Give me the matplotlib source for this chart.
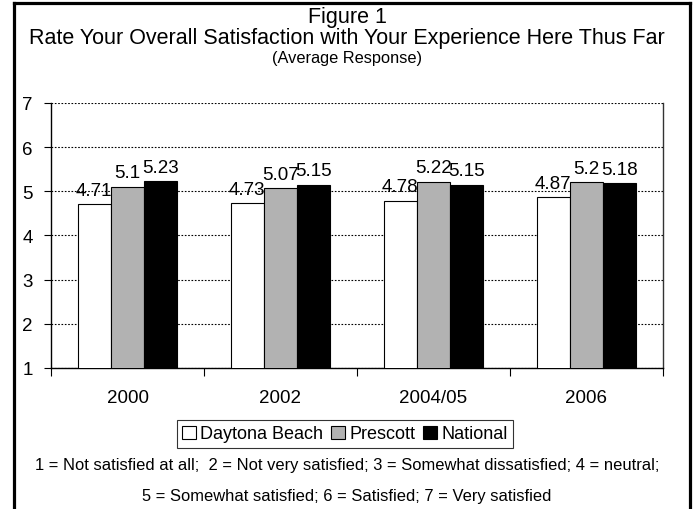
import matplotlib
matplotlib.use("Agg")
import matplotlib.pyplot as plt
import numpy as np
from matplotlib.lines import Line2D

plt.rcParams['font.family'] = ['Liberation Sans', 'DejaVu Sans']

years = ['2000', '2002', '2004/05', '2006']
daytona = [4.71, 4.73, 4.78, 4.87]
prescott = [5.1, 5.07, 5.22, 5.2]
national = [5.23, 5.15, 5.15, 5.18]
series_names = ['Daytona Beach', 'Prescott', 'National']
colors = ['white', '#b2b2b2', 'black']

fig = plt.figure(figsize=(6.94, 5.10), dpi=100)
ax = fig.add_axes([51 / 694, 1 - 369 / 510, 612 / 694, 265 / 510])

x = np.arange(len(years))
w = 0.217
for k, (vals, name, c) in enumerate(zip([daytona, prescott, national], series_names, colors)):
    bars = ax.bar(x + (k - 1) * w, vals, width=w, bottom=0, color=c,
                  edgecolor='black', linewidth=0.8, label=name, zorder=3)
    for b, v in zip(bars, vals):
        ax.annotate(f'{v:g}', (b.get_x() + b.get_width() / 2, v),
                    xytext=(0, 4), textcoords='offset points',
                    ha='center', va='bottom', fontsize=13.5)

ax.set_ylim(1, 7)
ax.set_xlim(-0.5, len(years) - 0.5)
ax.set_yticks(range(1, 8))
ax.set_xticks(x, labels=years)
ax.set_xticks(np.arange(-0.5, len(years)), minor=True)
ax.tick_params(axis='x', which='major', length=0, pad=15, labelsize=13.5)
ax.tick_params(axis='x', which='minor', length=6, direction='out', width=0.8)
ax.tick_params(axis='y', length=5, direction='out', pad=8, labelsize=13.5, width=0.8)

ax.yaxis.grid(True, linestyle=(0, (1.5, 1.5)), color='black', linewidth=0.8, zorder=0)
ax.spines['top'].set_visible(False)
ax.spines['left'].set_linewidth(1.0)
ax.spines['bottom'].set_linewidth(1.0)
ax.spines['right'].set_linewidth(1.0)
ax.spines['right'].set_color('#333333')

leg = fig.legend(loc='center', bbox_to_anchor=(345 / 694, 1 - 435 / 510), ncol=3,
                 fontsize=13, frameon=True, fancybox=False, edgecolor='black',
                 handlelength=0.75, handleheight=0.75, handletextpad=0.25,
                 columnspacing=0.45, borderpad=0.3, borderaxespad=0)
leg.get_frame().set_linewidth(0.8)

fig.text(0.5, 1 - 17 / 510, 'Figure 1', ha='center', va='center', fontsize=15.5)
fig.text(0.5, 1 - 39 / 510, 'Rate Your Overall Satisfaction with Your Experience Here Thus Far',
         ha='center', va='center', fontsize=15.5)
fig.text(0.5, 1 - 59 / 510, '(Average Response)', ha='center', va='center', fontsize=11.8)
fig.text(0.5, 1 - 466 / 510,
         '1 = Not satisfied at all;  2 = Not very satisfied; 3 = Somewhat dissatisfied; 4 = neutral;',
         ha='center', va='center', fontsize=11.9)
fig.text(0.5, 1 - 497 / 510,
         '5 = Somewhat satisfied; 6 = Satisfied; 7 = Very satisfied',
         ha='center', va='center', fontsize=11.9)

# outer frame (open at bottom)
bx0, bx1, by = 13.5 / 694, 689.5 / 694, 1 - 4 / 510
for xs, ys in [([bx0, bx0], [0, by]), ([bx0, bx1], [by, by]), ([bx1, bx1], [by, 0])]:
    fig.add_artist(Line2D(xs, ys, color='black', linewidth=2.3, transform=fig.transFigure))

fig.savefig('out.png', dpi=100)
